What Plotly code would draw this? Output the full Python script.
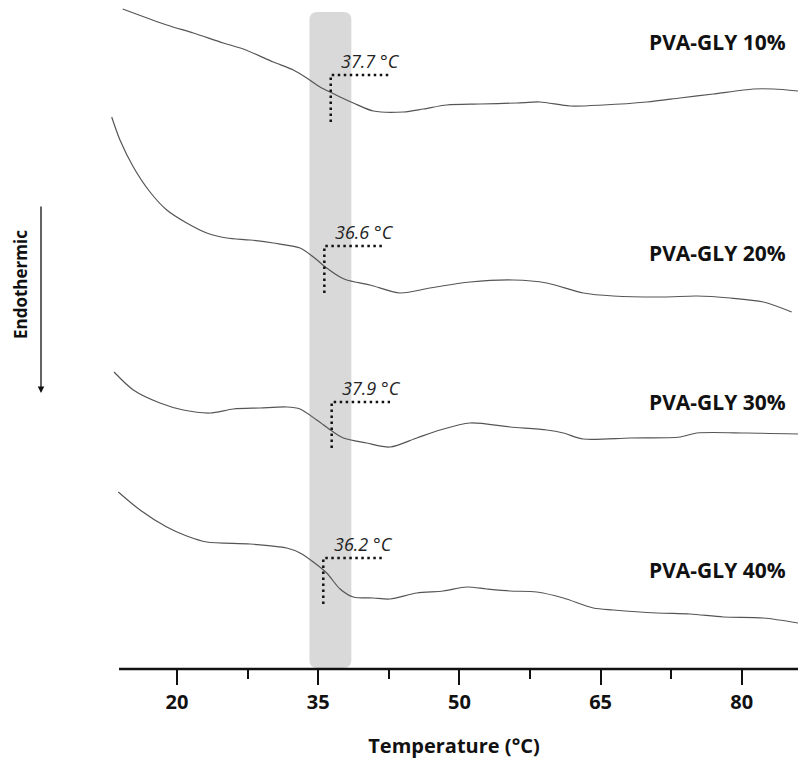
import plotly.graph_objects as go

# ---- data (Temperature in °C, heat flow in arbitrary units, offset per sample) ----
T_10 = [14.23, 18.91, 21.73, 24.92, 27.04, 30.23, 32.36, 33.78, 35.19, 36.25, 37.32, 38.73, 40.85,
        44.04, 46.17, 48.65, 52.19, 56.09, 58.56, 61.75, 65.29, 69.90, 73.44, 76.98, 81.23, 83.35, 85.97]
H_10 = [6.60, 6.44, 6.36, 6.26, 6.20, 6.07, 5.99, 5.91, 5.82, 5.77, 5.72, 5.66, 5.58,
        5.57, 5.60, 5.64, 5.65, 5.66, 5.67, 5.63, 5.64, 5.67, 5.71, 5.75, 5.80, 5.80, 5.78]

T_20 = [13.06, 13.94, 15.36, 17.13, 18.91, 21.03, 23.16, 25.28, 27.76, 30.23, 33.07, 34.48, 35.90,
        37.32, 38.03, 40.50, 43.69, 46.88, 51.13, 55.73, 59.28, 63.16, 66.35, 71.66, 75.21, 78.75, 82.29, 85.30]
H_20 = [5.52, 5.29, 5.02, 4.77, 4.59, 4.46, 4.36, 4.31, 4.29, 4.26, 4.21, 4.12, 4.01,
        3.92, 3.89, 3.84, 3.76, 3.81, 3.87, 3.89, 3.86, 3.76, 3.73, 3.72, 3.73, 3.71, 3.67, 3.57]

T_30 = [13.31, 15.36, 18.19, 20.67, 23.51, 25.98, 28.82, 31.65, 33.07, 34.84, 36.61, 37.67, 40.15,
        42.63, 45.47, 47.94, 51.13, 55.38, 59.28, 61.04, 63.16, 68.13, 73.44, 75.21, 80.52, 85.97]
H_30 = [2.97, 2.79, 2.66, 2.59, 2.56, 2.60, 2.61, 2.62, 2.60, 2.49, 2.37, 2.31, 2.26,
        2.22, 2.31, 2.39, 2.46, 2.42, 2.39, 2.36, 2.30, 2.31, 2.32, 2.36, 2.36, 2.35]

T_40 = [13.76, 16.07, 18.91, 21.03, 23.16, 27.76, 31.65, 33.07, 34.48, 35.90, 37.32, 38.73, 40.85,
        42.63, 45.47, 48.29, 50.78, 52.90, 55.38, 58.21, 61.04, 64.23, 66.35, 70.96, 74.50, 78.04, 82.29, 85.97]
H_40 = [1.77, 1.59, 1.42, 1.33, 1.27, 1.25, 1.21, 1.16, 1.07, 0.96, 0.80, 0.72, 0.71,
        0.70, 0.76, 0.78, 0.82, 0.80, 0.78, 0.77, 0.71, 0.61, 0.59, 0.56, 0.55, 0.52, 0.51, 0.46]

samples = ["PVA-GLY 10%", "PVA-GLY 20%", "PVA-GLY 30%", "PVA-GLY 40%"]
sample_label_y = [6.27, 4.16, 2.67, 0.99]

# glass-transition markers
tg_labels = ["37.7 °C", "36.6 °C", "37.9 °C", "36.2 °C"]
tg_marker_x = [36.33, 35.65, 36.43, 35.54]
tg_marker_top = [5.94, 4.23, 2.67, 1.11]
tg_marker_bottom = [5.47, 3.76, 2.21, 0.65]
tg_marker_end = [42.52, 41.81, 42.63, 41.75]

band_x = [34.07, 38.52]
band_y = [0.01, 6.57]

tick_vals = [20, 35, 50, 65, 80]
x_range = [12.88, 85.97]
axis_start = 13.84
y_range = [0, 6.69]

CURVE = "#555555"
FONT = "Open Sans"

fig = go.Figure()

for T, H in [(T_10, H_10), (T_20, H_20), (T_30, H_30), (T_40, H_40)]:
    fig.add_trace(go.Scatter(x=T, y=H, mode="lines",
                             line=dict(color=CURVE, width=1.2, shape="spline", smoothing=0.8),
                             hoverinfo="skip", showlegend=False))

# rounded highlight band
x0, x1 = band_x
y0, y1 = band_y
rx, ry = 0.85, 0.08
path = (f"M {x0+rx},{y0} L {x1-rx},{y0} Q {x1},{y0} {x1},{y0+ry} "
        f"L {x1},{y1-ry} Q {x1},{y1} {x1-rx},{y1} L {x0+rx},{y1} "
        f"Q {x0},{y1} {x0},{y1-ry} L {x0},{y0+ry} Q {x0},{y0} {x0+rx},{y0} Z")
fig.add_shape(type="path", path=path, xref="x", yref="y",
              fillcolor="#d9d9d9", line=dict(width=0), layer="below")

# onset markers (dotted)
for xm, yt, yb, xe, lab in zip(tg_marker_x, tg_marker_top, tg_marker_bottom, tg_marker_end, tg_labels):
    fig.add_trace(go.Scatter(x=[xm, xm, xe], y=[yb, yt, yt], mode="lines",
                             line=dict(color="#111111", width=2.5, dash="2.5px,3.5px"),
                             hoverinfo="skip", showlegend=False))
    fig.add_annotation(x=xm + 0.9, y=yt + 0.14, text=lab, showarrow=False,
                       xanchor="left", yanchor="middle",
                       font=dict(family=FONT, size=18, color="#222222", style="italic"))

# sample labels
for s, ys in zip(samples, sample_label_y):
    fig.add_annotation(x=0.985, xref="paper", y=ys, text=f"<b>{s}</b>", showarrow=False,
                       xanchor="right", yanchor="middle",
                       font=dict(family=FONT, size=21, color="#111111"))

# axis baseline
fig.add_shape(type="line", xref="x", yref="paper", x0=axis_start, x1=x_range[1], y0=0, y1=0,
              line=dict(color="#111111", width=2.5))

# Endothermic arrow + label
fig.add_annotation(xref="paper", yref="paper", x=(41 - 110) / 688, y=(669 - 393) / 669,
                   ax=0, ay=-188, axref="pixel", ayref="pixel", text="",
                   showarrow=True, arrowhead=2, arrowsize=1, arrowwidth=1.3, arrowcolor="#111111")
fig.add_annotation(xref="paper", yref="paper", x=(20 - 110) / 688, y=(669 - 285) / 669,
                   text="<b>Endothermic</b>", textangle=-90, showarrow=False,
                   xanchor="center", yanchor="middle",
                   font=dict(family=FONT, size=17, color="#111111"))

fig.update_layout(
    width=798, height=764,
    margin=dict(l=110, r=0, t=0, b=95),
    paper_bgcolor="white", plot_bgcolor="white",
    showlegend=False,
    xaxis=dict(range=x_range, tickvals=tick_vals, ticktext=[f"<b>{v}</b>" for v in tick_vals],
               ticks="outside", ticklen=15, tickwidth=2, tickcolor="#111111",
               minor=dict(dtick=7.5, tick0=20, ticks="outside", ticklen=9, tickwidth=2, tickcolor="#111111"),
               showgrid=False, zeroline=False, showline=False,
               tickfont=dict(family=FONT, size=20, color="#111111"),
               title=dict(text="<b>Temperature (°C)</b>", standoff=24,
                          font=dict(family=FONT, size=20, color="#111111"))),
    yaxis=dict(range=y_range, visible=False, showgrid=False, zeroline=False),
)

fig.write_html("out.html")
